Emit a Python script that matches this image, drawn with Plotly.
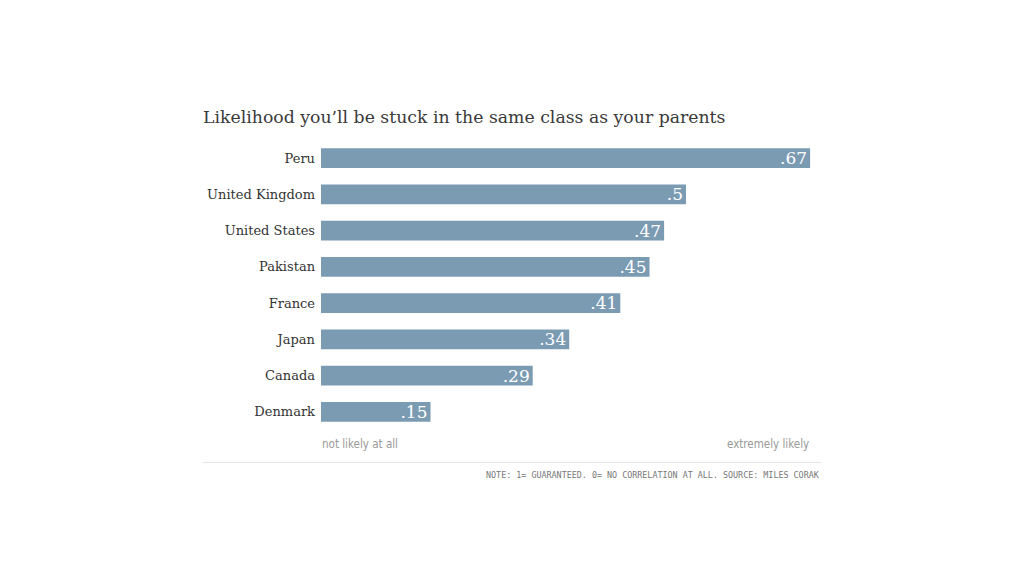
import plotly.graph_objects as go

countries = ["Peru", "United Kingdom", "United States", "Pakistan", "France", "Japan", "Canada", "Denmark"]
values = [0.67, 0.5, 0.47, 0.45, 0.41, 0.34, 0.29, 0.15]
value_labels = [".67", ".5", ".47", ".45", ".41", ".34", ".29", ".15"]

title_text = "Likelihood you\u2019ll be stuck in the same class as your parents"
low_label = "not likely at all"
high_label = "extremely likely"
note_text = "NOTE: 1= GUARANTEED. 0= NO CORRELATION AT ALL. SOURCE: MILES CORAK"

W, H = 1024, 576
L, R = 321, 192
T, B = 140, 146
plot_w = W - L - R
plot_h = H - T - B

serif = "DejaVu Serif"
narrow = "DejaVu Sans Condensed"

fig = go.Figure(go.Bar(
    x=values, y=countries, orientation="h",
    marker=dict(color="#7b9bb3", line=dict(width=0)),
    text=value_labels, textposition="inside", insidetextanchor="end",
    textangle=0, constraintext="none",
    textfont=dict(family=serif, size=17, color="white"),
    cliponaxis=False, hoverinfo="skip",
))

def px_x(p):
    return (p - L) / plot_w

def px_y(p):
    return (H - B - p) / plot_h

fig.update_layout(
    width=W, height=H,
    margin=dict(l=L, r=R, t=T, b=B),
    paper_bgcolor="white", plot_bgcolor="white",
    bargap=0.46,
    showlegend=False,
    title=dict(text=title_text, x=203 / W, xanchor="left", xref="container",
               y=1 - 117 / H, yanchor="middle", yref="container",
               font=dict(family=serif, size=17.3, color="#3a3a3a")),
    xaxis=dict(range=[0, 0.7], showgrid=False, zeroline=False, showticklabels=False, fixedrange=True),
    yaxis=dict(categoryorder="array", categoryarray=countries, autorange="reversed",
               showgrid=False, zeroline=False, ticks="", ticklabelstandoff=5,
               tickfont=dict(family=serif, size=13, color="#333333")),
    annotations=[
        dict(text=low_label, x=px_x(320), y=px_y(444), xref="paper", yref="paper",
             xanchor="left", yanchor="middle", showarrow=False,
             font=dict(family=narrow, size=11.5, color="#999999")),
        dict(text=high_label, x=px_x(811), y=px_y(444), xref="paper", yref="paper",
             xanchor="right", yanchor="middle", showarrow=False,
             font=dict(family=narrow, size=11.5, color="#999999")),
        dict(text=note_text, x=px_x(822), y=px_y(475), xref="paper", yref="paper",
             xanchor="right", yanchor="middle", showarrow=False,
             font=dict(family="DejaVu Sans Mono", size=8.4, color="#777777")),
    ],
    shapes=[
        dict(type="line", xref="paper", yref="paper", x0=px_x(202), x1=px_x(822),
             y0=px_y(462.5), y1=px_y(462.5), line=dict(color="#e6e6e6", width=1)),
    ],
)

fig.write_html("out.html")
